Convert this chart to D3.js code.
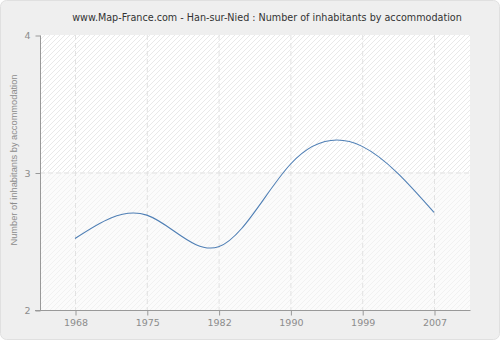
<!DOCTYPE html>
<html>
<head>
<meta charset="utf-8">
<script src="https://cdn.jsdelivr.net/npm/d3@7/dist/d3.min.js"></script>
<style>
  html, body { margin: 0; padding: 0; background: #ffffff; }
  svg { display: block; font-family: "DejaVu Sans", Verdana, sans-serif; }
</style>
</head>
<body>
<svg id="chart" width="500" height="340"></svg>
<script>
// Census years and average number of inhabitants per dwelling
const years = ["1968", "1975", "1982", "1990", "1999", "2007"];
const inhabitants = [2.52, 2.69, 2.46, 3.06, 3.19, 2.71];
const yTicks = [2, 3, 4];

const titleText = "www.Map-France.com - Han-sur-Nied : Number of inhabitants by accommodation";
const yAxisLabel = "Number of inhabitants by accommodation";

const svg = d3.select("#chart");
const W = 500, H = 340;
const plot = { left: 40, right: 470, top: 35, bottom: 310 };
const FONT = "\"DejaVu Sans\", Verdana, sans-serif";
const FONT_NARROW = "\"Liberation Sans\", Arial, sans-serif";

// Outer panel
svg.append("rect")
  .attr("x", 0.5).attr("y", 0.5)
  .attr("width", W - 1).attr("height", H - 1)
  .attr("rx", 6)
  .attr("fill", "#efefef")
  .attr("stroke", "#e0e0e0");

// Hatch patterns for the plot background bands
const defs = svg.append("defs");
function hatch(id, bg, line) {
  const p = defs.append("pattern")
    .attr("id", id)
    .attr("patternUnits", "userSpaceOnUse")
    .attr("width", 5).attr("height", 5);
  p.append("rect").attr("width", 5).attr("height", 5).attr("fill", bg);
  p.append("path")
    .attr("d", "M-1,1 l2,-2 M0,5 l5,-5 M4,6 l2,-2")
    .attr("stroke", line).attr("stroke-width", 0.9);
}
hatch("hatchUpper", "#ffffff", "#e6e6e6");
hatch("hatchLower", "#fbfbfb", "#efefef");

const x = d3.scalePoint()
  .domain(years)
  .range([75, 434]);

const y = d3.scaleLinear()
  .domain([2, 4])
  .range([plot.bottom, plot.top]);

// Background bands between y ticks
svg.append("rect")
  .attr("x", plot.left).attr("y", y(4))
  .attr("width", plot.right - plot.left).attr("height", y(3) - y(4))
  .attr("fill", "url(#hatchUpper)");
svg.append("rect")
  .attr("x", plot.left).attr("y", y(3))
  .attr("width", plot.right - plot.left).attr("height", y(2) - y(3))
  .attr("fill", "url(#hatchLower)");

// Dashed grid
const grid = svg.append("g")
  .attr("stroke", "#e2e2e2")
  .attr("stroke-dasharray", "5,3")
  .attr("fill", "none");
years.forEach(yr => {
  grid.append("line")
    .attr("x1", x(yr) + 0.5).attr("x2", x(yr) + 0.5)
    .attr("y1", plot.top).attr("y2", plot.bottom);
});
yTicks.slice(1, -1).forEach(v => {
  grid.append("line")
    .attr("x1", plot.left).attr("x2", plot.right)
    .attr("y1", y(v) + 0.5).attr("y2", y(v) + 0.5);
});

// Axes
const xAxis = d3.axisBottom(x).tickSize(5).tickPadding(4);
const gx = svg.append("g")
  .attr("transform", `translate(0.5,${plot.bottom + 0.5})`)
  .call(xAxis);
gx.select(".domain").attr("d", `M${35 - 0.5},0H${plot.right}`);

const yAxis = d3.axisLeft(y).tickValues(yTicks).tickFormat(d3.format("d")).tickSize(5).tickPadding(5);
const gy = svg.append("g")
  .attr("transform", `translate(${plot.left + 0.5},0.5)`)
  .call(yAxis);
gy.select(".domain").attr("d", `M0,${plot.top}V${plot.bottom}`);

[gx, gy].forEach(g => {
  g.selectAll(".domain").attr("stroke", "#999999");
  g.selectAll(".tick line").attr("stroke", "#999999");
  g.selectAll(".tick text")
    .attr("fill", "#8c8c8c")
    .style("font-size", "9.5px")
    .style("font-family", FONT);
});

// Smooth line through the census values
const line = d3.line()
  .x((d, i) => x(years[i]))
  .y(d => y(d))
  .curve(d3.curveNatural);

svg.append("path")
  .datum(inhabitants)
  .attr("d", line)
  .attr("fill", "none")
  .attr("stroke", "#4f7fb5")
  .attr("stroke-width", 1.1);

// Scale a label's font so that it spans the given width
function fitText(sel, width) {
  sel.style("font-size", "10px");
  const w = sel.node().getComputedTextLength();
  sel.style("font-size", (10 * width / w).toFixed(2) + "px");
}

// Title
const title = svg.append("text")
  .attr("x", 267).attr("y", 21)
  .attr("text-anchor", "middle")
  .attr("fill", "#333333")
  .style("font-family", FONT)
  .text(titleText);
fitText(title, 390);

// Y axis label
const yl = svg.append("text")
  .attr("transform", `translate(17,${160}) rotate(-90)`)
  .attr("text-anchor", "middle")
  .attr("fill", "#8c8c8c")
  .style("font-family", FONT_NARROW)
  .text(yAxisLabel);
fitText(yl, 171);
</script>
</body>
</html>
